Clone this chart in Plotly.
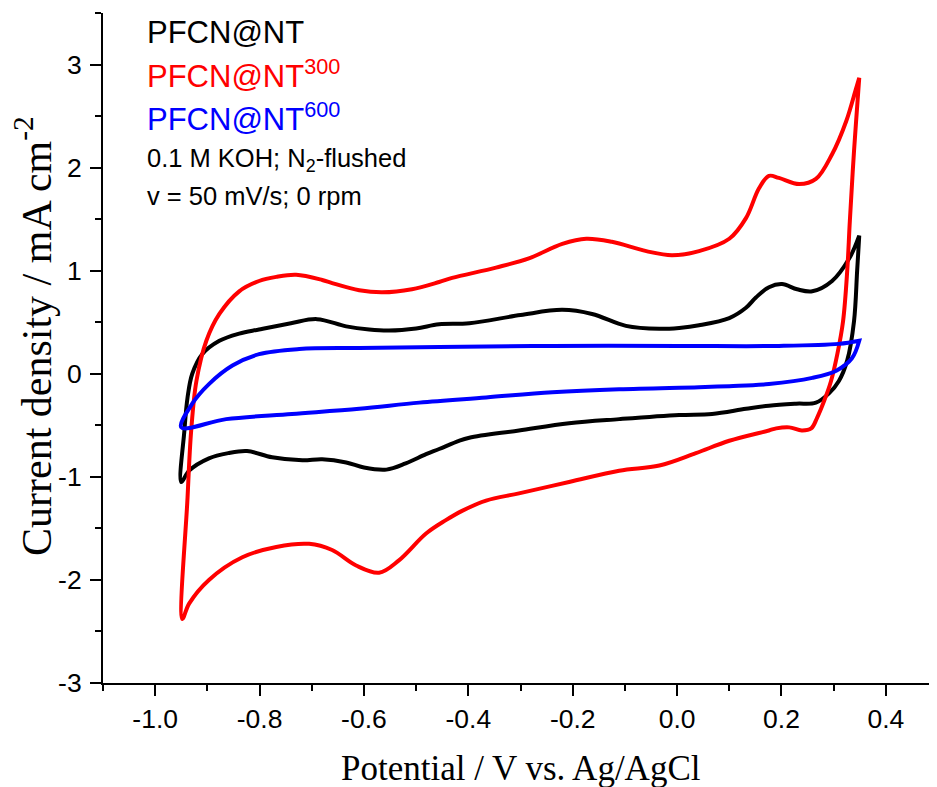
import plotly.graph_objects as go

# ---------------- data ----------------
# PFCN@NT (black): anodic sweep then cathodic sweep
nt_v_anodic = [-0.950, -0.944, -0.938, -0.929, -0.910, -0.877, -0.839, -0.801, -0.740, -0.690,
               -0.634, -0.590, -0.552, -0.500, -0.456, -0.398, -0.300, -0.220, -0.163, -0.098,
               -0.034, 0.004, 0.042, 0.100, 0.132, 0.151, 0.176, 0.201, 0.230, 0.259,
               0.297, 0.330, 0.349]
nt_j_anodic = [-1.05, -0.55, -0.23, 0.00, 0.19, 0.32, 0.39, 0.43, 0.49, 0.53,
               0.46, 0.43, 0.42, 0.44, 0.48, 0.49, 0.57, 0.62, 0.58, 0.465,
               0.436, 0.445, 0.47, 0.54, 0.64, 0.74, 0.84, 0.87, 0.82, 0.80,
               0.90, 1.12, 1.34]
nt_v_cathodic = [0.349, 0.345, 0.339, 0.326, 0.310, 0.291, 0.266, 0.228, 0.176, 0.132,
                 0.067, 0.004, -0.111, -0.207, -0.303, -0.398, -0.418, -0.456, -0.481, -0.520,
                 -0.557, -0.600, -0.634, -0.680, -0.718, -0.776, -0.824, -0.860, -0.897, -0.935,
                 -0.950]
nt_j_cathodic = [1.34, 1.00, 0.51, 0.13, -0.07, -0.19, -0.28, -0.29, -0.31, -0.34,
                 -0.39, -0.40, -0.44, -0.48, -0.55, -0.62, -0.65, -0.73, -0.78, -0.87,
                 -0.93, -0.91, -0.86, -0.83, -0.84, -0.81, -0.75, -0.77, -0.82, -0.94,
                 -1.05]

# PFCN@NT300 (red)
nt300_v_anodic = [-0.948, -0.938, -0.931, -0.921, -0.902, -0.877, -0.839, -0.801, -0.768, -0.730,
                  -0.680, -0.661, -0.609, -0.565, -0.508, -0.456, -0.431, -0.347, -0.284, -0.220,
                  -0.174, -0.125, -0.059, -0.010, 0.042, 0.100, 0.132, 0.157, 0.176, 0.195,
                  0.234, 0.266, 0.297, 0.324, 0.343, 0.349]
nt300_j_anodic = [-2.38, -1.20, -0.55, -0.07, 0.32, 0.58, 0.80, 0.90, 0.94, 0.96,
                  0.91, 0.88, 0.81, 0.79, 0.82, 0.89, 0.93, 1.03, 1.12, 1.26,
                  1.31, 1.28, 1.19, 1.15, 1.19, 1.31, 1.51, 1.80, 1.92, 1.90,
                  1.84, 1.89, 2.13, 2.45, 2.77, 2.87]
nt300_v_cathodic = [0.349, 0.339, 0.331, 0.326, 0.318, 0.307, 0.295, 0.282, 0.268, 0.257,
                    0.239, 0.215, 0.190, 0.176, 0.100, 0.036, -0.034, -0.111, -0.207, -0.303,
                    -0.366, -0.412, -0.443, -0.481, -0.533, -0.571, -0.615, -0.661, -0.705, -0.768,
                    -0.833, -0.897, -0.935, -0.948]
nt300_j_cathodic = [2.87, 2.16, 1.48, 1.00, 0.51, 0.19, -0.07, -0.26, -0.43, -0.53,
                    -0.55, -0.52, -0.53, -0.55, -0.65, -0.77, -0.89, -0.94, -1.05, -1.16,
                    -1.23, -1.33, -1.42, -1.55, -1.81, -1.93, -1.86, -1.71, -1.65, -1.68,
                    -1.78, -2.00, -2.23, -2.38]

# PFCN@NT600 (blue)
nt600_v_anodic = [-0.950, -0.929, -0.897, -0.852, -0.801, -0.724, -0.609, -0.456, -0.239, 0.004,
                  0.195, 0.310, 0.349]
nt600_j_anodic = [-0.52, -0.29, -0.10, 0.08, 0.19, 0.24, 0.25, 0.26, 0.27, 0.27,
                  0.27, 0.29, 0.32]
nt600_v_cathodic = [0.349, 0.335, 0.305, 0.259, 0.176, 0.100, 0.042, -0.111, -0.239, -0.366,
                    -0.494, -0.609, -0.738, -0.864, -0.950]
nt600_j_cathodic = [0.32, 0.15, 0.03, -0.04, -0.10, -0.12, -0.13, -0.15, -0.18, -0.23,
                    -0.28, -0.34, -0.39, -0.44, -0.52]

series_names = ["PFCN@NT", "PFCN@NT<sup>300</sup>", "PFCN@NT<sup>600</sup>"]
series_colors = ["#000000", "#FF0000", "#0000FF"]

x_tickvals = [-1.0, -0.8, -0.6, -0.4, -0.2, 0.0, 0.2, 0.4]
x_ticktext = ["-1.0", "-0.8", "-0.6", "-0.4", "-0.2", "0.0", "0.2", "0.4"]
x_minorvals = [-1.1, -0.9, -0.7, -0.5, -0.3, -0.1, 0.1, 0.3]
y_tickvals = [-3, -2, -1, 0, 1, 2, 3]
y_ticktext = ["-3", "-2", "-1", "0", "1", "2", "3"]
y_minorvals = [-2.5, -1.5, -0.5, 0.5, 1.5, 2.5, 3.5]

x_title = "Potential / V vs. Ag/AgCl"
y_title = "Current density / mA cm<sup>-2</sup>"
info_lines = ["0.1 M KOH; N<sub>2</sub>-flushed", "v = 50 mV/s; 0 rpm"]

# ---------------- figure ----------------
SANS = "Liberation Sans, Arial, sans-serif"
SERIF = "Liberation Serif, Times New Roman, serif"

# The page body has an 8px default margin, so the figure is drawn 8px in
# from the window's top-left corner; lay everything out in window pixels.
OFF = 8
W, H = 937 - OFF, 787 - OFF
ML, MR, MT, MB = 103 - OFF, 0, 13 - OFF, 787 - 683

fig = go.Figure()
curves = [
    (nt_v_anodic + nt_v_cathodic, nt_j_anodic + nt_j_cathodic),
    (nt300_v_anodic + nt300_v_cathodic, nt300_j_anodic + nt300_j_cathodic),
    (nt600_v_anodic + nt600_v_cathodic, nt600_j_anodic + nt600_j_cathodic),
]
for (v, j), name, col in zip(curves, series_names, series_colors):
    fig.add_trace(go.Scatter(x=v, y=j, mode="lines", name=name, showlegend=False,
                             line=dict(color=col, width=4, shape="spline", smoothing=1.0)))

axis_common = dict(showline=True, linecolor="black", linewidth=2, ticks="outside",
                   tickcolor="black", tickwidth=2, ticklen=11, showgrid=False, zeroline=False,
                   mirror=False, automargin=False,
                   tickfont=dict(family=SANS, size=26.5, color="black"))

fig.update_xaxes(range=[-1.1, 0.498], tickmode="array", tickvals=x_tickvals, ticktext=x_ticktext,
                 minor=dict(tickmode="array", tickvals=x_minorvals, ticks="outside", ticklen=6,
                            tickwidth=2, tickcolor="black", showgrid=False),
                 **axis_common)
fig.update_yaxes(range=[-3, 3.5], tickmode="array", tickvals=y_tickvals, ticktext=y_ticktext,
                 minor=dict(tickmode="array", tickvals=y_minorvals, ticks="outside", ticklen=6,
                            tickwidth=2, tickcolor="black", showgrid=False),
                 ticklabelstandoff=3,
                 **axis_common)

plot_w = W - ML - MR
plot_h = H - MT - MB

def px_to_paper(px, py):
    """window pixel -> paper coordinate"""
    return (px - OFF - ML) / plot_w, 1 - (py - OFF - MT) / plot_h

# axis titles
xp, yp = px_to_paper(521, 768)
fig.add_annotation(x=xp, y=yp, xref="paper", yref="paper", xanchor="center", yanchor="middle",
                   text=x_title, showarrow=False, font=dict(family=SERIF, size=35, color="black"))
xp, yp = px_to_paper(33, 336)
fig.add_annotation(x=xp, y=yp, xref="paper", yref="paper", xanchor="center", yanchor="middle",
                   text=y_title, textangle=-90, showarrow=False,
                   font=dict(family=SERIF, size=42, color="black"))

# legend-like coloured labels and conditions
legend_rows = [(series_names[0], series_colors[0], 31, 32.5),
               (series_names[1], series_colors[1], 31, 74),
               (series_names[2], series_colors[2], 31, 117.5),
               (info_lines[0], "#000000", 25.5, 159.5),
               (info_lines[1], "#000000", 25.5, 196)]
for text, col, size, py in legend_rows:
    xp, yp = px_to_paper(145, py)
    fig.add_annotation(x=xp, y=yp, xref="paper", yref="paper", xanchor="left", yanchor="middle",
                       text=text, showarrow=False,
                       font=dict(family=SANS, size=size, color=col))

fig.update_layout(width=W, height=H, margin=dict(l=ML, r=MR, t=MT, b=MB, autoexpand=False),
                  plot_bgcolor="white", paper_bgcolor="white", showlegend=False)

fig.write_html("out.html")
